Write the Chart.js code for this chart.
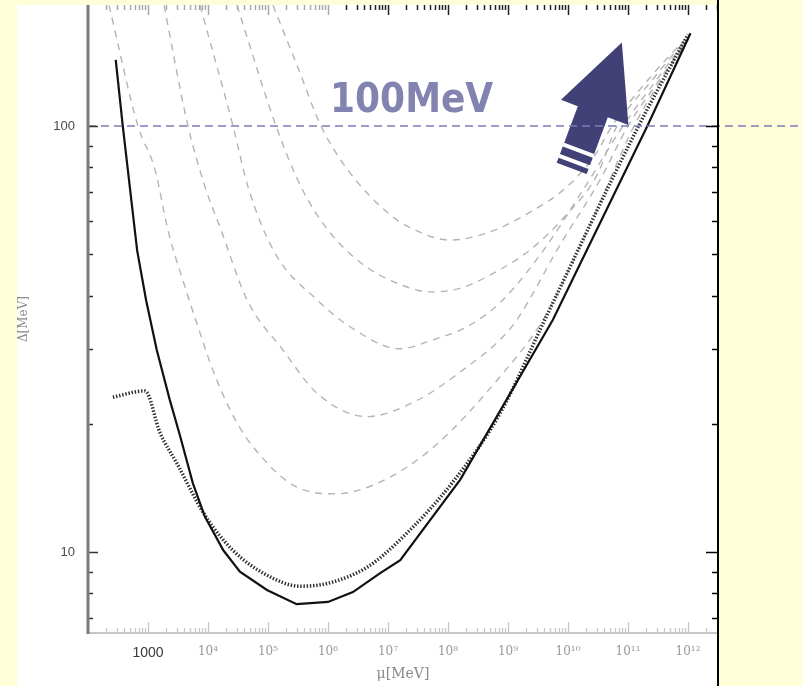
<!DOCTYPE html>
<html>
<head>
<meta charset="utf-8">
<script src="https://cdn.jsdelivr.net/npm/chart.js@4.4.1/dist/chart.umd.min.js"></script>
<style>
  html, body { margin: 0; padding: 0; background: #fffed8; overflow: hidden; }
  #paper { position: absolute; left: 17px; top: 5px; width: 701px; height: 681px; background: #fff; }
  #gapChart { position: absolute; left: 0; top: 0; }
</style>
</head>
<body>
<div id="paper"></div>
<canvas id="gapChart" width="803" height="686"></canvas>
<script>
// mu [MeV] vs Delta [MeV]
const solidMu = [290, 380, 660, 930, 1400, 2300, 3400, 5600, 8900, 1.8e4, 3.4e4, 9.6e4, 3.0e5, 1.0e6, 2.6e6, 7.4e6, 1.6e7, 1.6e8, 5.6e9, 2.1e11, 1.1e12]
const solidDelta = [143, 100, 51, 39, 29.8, 22.8, 18.8, 14.5, 12.1, 10.1, 9.0, 8.15, 7.55, 7.64, 8.06, 8.93, 9.57, 14.8, 35.1, 100, 165]

const dottedMu = [260, 890, 1600, 3000, 8900, 2.6e4, 9.6e4, 3.4e5, 1.0e6, 4.5e6, 1.6e7, 1.2e8, 7.4e8, 4.1e9, 1.5e11, 1.0e12]
const dottedDelta = [23.1, 23.9, 19.0, 16.2, 12.2, 10.1, 8.83, 8.32, 8.45, 9.22, 10.7, 14.6, 21.2, 35.1, 100, 164]

const dashAMu = [224, 680, 1310, 2150, 4140, 7360, 1.21e4, 3.04e4, 9.6e4, 3.04e5, 1.31e6, 7.36e6, 5.62e7, 7.36e8, 3.83e9, 2.33e10, 1.26e11, 3.41e11, 1.0e12]
const dashADelta = [192, 100, 78.9, 57.0, 41.9, 32.7, 26.7, 20.1, 16.2, 14.2, 13.7, 14.6, 17.6, 25.8, 35.1, 58.6, 100, 127, 159]

const dashBMu = [1850, 4640, 8910, 1.65e4, 4.47e4, 1.78e5, 6.56e5, 4.47e6, 3.04e7, 2.07e8, 7.36e8, 1.41e9, 7.36e9, 3.41e10, 1.0e11, 3.16e11, 9.62e11]
const dashBDelta = [192, 100, 72.0, 57.0, 39.1, 29.8, 23.6, 20.8, 22.7, 27.2, 31.5, 35.1, 52.6, 74.7, 100, 127, 159]

const dashCMu = [7360, 2.61e4, 4.64e4, 1.31e5, 6.56e5, 2.33e6, 1.58e7, 5.62e7, 2.07e8, 7.36e8, 3.41e9, 1.58e10, 8.26e10, 2.82e11, 9.27e11]
const dashCDelta = [192, 100, 72.0, 50.3, 39.1, 33.8, 30.0, 31.5, 33.8, 38.5, 49.8, 68.9, 100, 127, 159]

const dashDMu = [3.04e4, 1.36e5, 3.55e5, 1.0e6, 3.55e6, 1.58e7, 5.01e7, 1.58e8, 5.01e8, 2.33e9, 9.62e9, 3.04e10, 6.56e10, 2.51e11, 8.91e11]
const dashDDelta = [192, 100, 72.0, 57.0, 47.7, 42.5, 40.8, 41.6, 44.7, 51.2, 62.1, 76.7, 100, 128, 159]

const dashEMu = [1.21e5, 3.16e5, 7.64e5, 2.15e6, 1.0e7, 2.82e7, 1.08e8, 5.01e8, 2.33e9, 9.62e9, 2.82e10, 5.41e10, 2.33e11, 8.58e11]
const dashEDelta = [192, 137, 100, 78.8, 62.5, 57.0, 54.0, 56.4, 62.8, 72.0, 85.5, 100, 130, 159]

const refLineMu = [100, 8.3e13]
const refLineDelta = [100, 100]

const xMajorTicks = [1e3, 1e4, 1e5, 1e6, 1e7, 1e8, 1e9, 1e10, 1e11, 1e12]
const xTickLabels = ['1000', '10⁴', '10⁵', '10⁶', '10⁷', '10⁸', '10⁹', '10¹⁰', '10¹¹', '10¹²']
const yMajorTicks = [10, 100]
const yTickLabels = ['10', '100']

const xMin = 100, xMax = 3.16e12
const yMin = 6.46, yMax = 192.3

const arrowTip = { mu: 7.9e10, delta: 157 }
const noteText = '100MeV'
const noteAt = { mu: 1.08e6, delta: 108 }

function pairs(xs, ys) {
  return xs.map((v, i) => ({ x: v, y: ys[i] }))
}

function minorTicks(lo, hi) {
  let out = []
  for (let d = Math.floor(Math.log10(lo)); d <= Math.ceil(Math.log10(hi)); d++) {
    for (let m = 1; m <= 9; m++) {
      const v = m * Math.pow(10, d)
      if (v > lo * 1.001 && v < hi) out.push(v)
    }
  }
  return out
}

const xTickValues = minorTicks(xMin, xMax)
const yTickValues = minorTicks(yMin, yMax)

function labelFor(v, majors, labels) {
  const i = majors.findIndex(m => Math.abs(m - v) / m < 1e-6)
  return i < 0 ? '' : labels[i]
}

function dashed(data) {
  return {
    data: data,
    borderColor: '#b4b4b4',
    borderWidth: 1.4,
    borderDash: [7, 6],
    pointRadius: 0,
    cubicInterpolationMode: 'monotone',
    fill: false
  }
}

function noPadding(s) {
  s.paddingTop = 0
  s.paddingBottom = 0
  s.paddingLeft = 0
  s.paddingRight = 0
}

function drawArrow(ctx, tx, ty) {
  const ux = 0.350, uy = -0.937
  const vx = 0.937, vy = 0.350
  const pt = (u, v) => [tx + u * ux + v * vx, ty + u * uy + v * vy]
  ctx.fillStyle = '#414177'
  const shape = [pt(0, 0), pt(-75, 35), pt(-75, 13), pt(-114, 13), pt(-114, -19), pt(-75, -19), pt(-75, -37)]
  ctx.beginPath()
  shape.forEach(([x, y], i) => i ? ctx.lineTo(x, y) : ctx.moveTo(x, y))
  ctx.closePath()
  ctx.fill()
  const bands = [[-118, -126], [-130, -135.5]]
  bands.forEach(([a, b]) => {
    const q = [pt(a, 13), pt(b, 13), pt(b, -19), pt(a, -19)]
    ctx.beginPath()
    q.forEach(([x, y], i) => i ? ctx.lineTo(x, y) : ctx.moveTo(x, y))
    ctx.closePath()
    ctx.fill()
  })
}

const annotate = {
  id: 'annotate',
  beforeDatasetDraw(chart, args) {
    if (args.index !== 0) return
    const { ctx, scales: { x, y } } = chart
    ctx.save()
    drawArrow(ctx, x.getPixelForValue(arrowTip.mu), y.getPixelForValue(arrowTip.delta))
    ctx.fillStyle = '#8383b2'
    ctx.font = 'bold 40px "DejaVu Sans Condensed", "DejaVu Sans", sans-serif'
    ctx.textBaseline = 'alphabetic'
    ctx.textAlign = 'left'
    ctx.fillText(noteText, x.getPixelForValue(noteAt.mu), y.getPixelForValue(noteAt.delta))
    ctx.restore()
  }
}

function tickLine(ctx, x1, y1, x2, y2) {
  ctx.beginPath()
  ctx.moveTo(x1, y1)
  ctx.lineTo(x2, y2)
  ctx.stroke()
}

const frame = {
  id: 'frame',
  afterDatasetsDraw(chart) {
    const { ctx, chartArea: a, scales: { x, y } } = chart
    ctx.save()
    // bottom axis, light grey, ticks pointing up
    ctx.strokeStyle = '#c6c6c6'
    ctx.lineWidth = 1.3
    xTickValues.forEach(v => {
      const px = Math.round(x.getPixelForValue(v)) + 0.5
      const len = xMajorTicks.includes(v) ? 11 : 5
      tickLine(ctx, px, a.bottom, px, a.bottom - len)
    })
    ctx.lineWidth = 2
    tickLine(ctx, a.left, a.bottom, a.right, a.bottom)
    // top ticks pointing down
    xTickValues.forEach(v => {
      const px = Math.round(x.getPixelForValue(v)) + 0.5
      const len = xMajorTicks.includes(v) ? 10 : 5
      ctx.strokeStyle = v < 2e6 ? '#a8a8a8' : '#222'
      ctx.lineWidth = 1.5
      tickLine(ctx, px, a.top, px, a.top + len)
    })
    // left axis, ticks pointing right
    ctx.strokeStyle = '#333'
    ctx.lineWidth = 1.5
    yTickValues.forEach(v => {
      const py = Math.round(y.getPixelForValue(v)) + 0.5
      const len = yMajorTicks.includes(v) ? 10 : 5
      tickLine(ctx, a.left, py, a.left + len, py)
    })
    ctx.strokeStyle = '#7a7a7a'
    ctx.lineWidth = 3
    tickLine(ctx, a.left, a.top, a.left, a.bottom + 1)
    // right axis, ticks pointing left
    ctx.strokeStyle = '#000'
    ctx.lineWidth = 1.5
    yTickValues.forEach(v => {
      const py = Math.round(y.getPixelForValue(v)) + 0.5
      const len = yMajorTicks.includes(v) ? 12 : 6
      tickLine(ctx, a.right, py, a.right - len, py)
    })
    ctx.lineWidth = 2
    tickLine(ctx, a.right, 0, a.right, chart.height)
    ctx.restore()
  }
}

const ctx = document.getElementById('gapChart').getContext('2d')

new Chart(ctx, {
  type: 'line',
  data: {
    datasets: [
      {
        data: pairs(refLineMu, refLineDelta),
        borderColor: '#7c7cb8',
        borderWidth: 1.6,
        borderDash: [8, 5],
        pointRadius: 0,
        clip: false,
        fill: false
      },
      {
        data: pairs(solidMu, solidDelta),
        borderColor: '#111',
        borderWidth: 2.2,
        pointRadius: 0,
        tension: 0,
        fill: false
      },
      {
        data: pairs(dottedMu, dottedDelta),
        borderColor: '#2a2a2a',
        borderWidth: 3.5,
        borderDash: [1.4, 1.8],
        pointRadius: 0,
        cubicInterpolationMode: 'monotone',
        fill: false
      },
      dashed(pairs(dashAMu, dashADelta)),
      dashed(pairs(dashBMu, dashBDelta)),
      dashed(pairs(dashCMu, dashCDelta)),
      dashed(pairs(dashDMu, dashDDelta)),
      dashed(pairs(dashEMu, dashEDelta))
    ]
  },
  options: {
    responsive: false,
    animation: false,
    devicePixelRatio: 1,
    layout: { padding: { left: 0, right: 85, top: 5, bottom: 0 } },
    plugins: {
      legend: { display: false },
      tooltip: { enabled: false }
    },
    scales: {
      x: {
        type: 'logarithmic',
        min: xMin,
        max: xMax,
        grid: { display: false, drawTicks: false },
        border: { display: false },
        afterBuildTicks: s => { s.ticks = xTickValues.map(v => ({ value: v })) },
        afterFit: s => { s.height = 53; noPadding(s) },
        ticks: {
          autoSkip: false,
          maxRotation: 0,
          minRotation: 0,
          padding: 12,
          callback: v => labelFor(v, xMajorTicks, xTickLabels),
          font: c => c.tick && c.tick.value === 1000
            ? { family: '"Liberation Sans", Arial, sans-serif', size: 14 }
            : { family: '"DejaVu Serif", serif', size: 12 },
          color: c => c.tick && c.tick.value === 1000 ? '#3a3a3a' : '#9a9a9a'
        },
        title: {
          display: true,
          text: 'μ[MeV]',
          color: '#8a8a8a',
          font: { family: '"DejaVu Serif", serif', size: 14 },
          padding: { top: 0, bottom: 3 }
        }
      },
      y: {
        type: 'logarithmic',
        min: yMin,
        max: yMax,
        grid: { display: false, drawTicks: false },
        border: { display: false },
        afterBuildTicks: s => { s.ticks = yTickValues.map(v => ({ value: v })) },
        afterFit: s => { s.width = 88; noPadding(s) },
        ticks: {
          autoSkip: false,
          padding: 13,
          callback: v => labelFor(v, yMajorTicks, yTickLabels),
          font: { family: '"Liberation Sans", Arial, sans-serif', size: 13 },
          color: '#4a4a4a'
        },
        title: {
          display: true,
          text: 'Δ[MeV]',
          color: '#8a8a8a',
          font: { family: '"DejaVu Serif", serif', size: 12 },
          padding: { top: 17, bottom: 0 }
        }
      }
    }
  },
  plugins: [annotate, frame]
})
</script>
</body>
</html>
